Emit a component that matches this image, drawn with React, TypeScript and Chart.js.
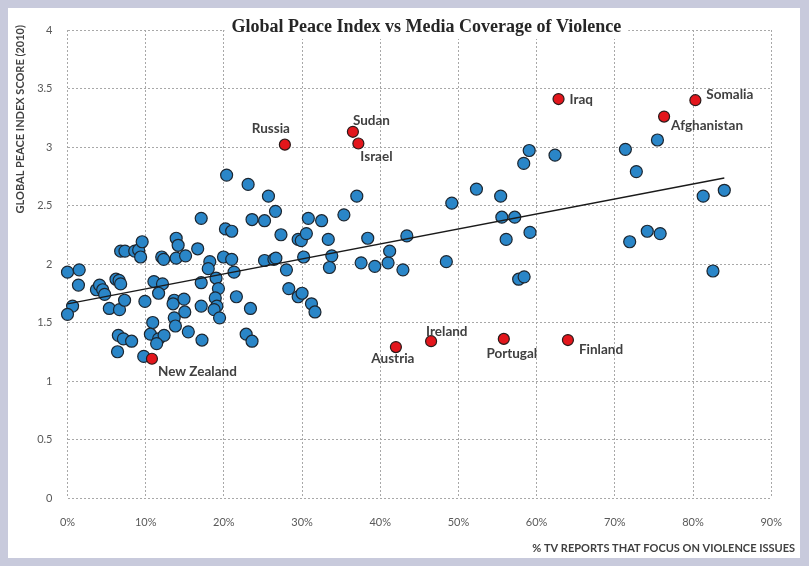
import React, { useEffect, useRef } from "react";
import { Chart, registerables } from "chart.js";

Chart.register(...registerables);

// ---- Data ----
const blueX = [
  0.0, 1.5, 1.4, 0.65, 0.0, 3.7, 4.1, 4.5, 4.75, 5.35, 6.65, 7.3, 6.2, 6.6, 6.8, 6.8, 7.35, 8.6, 9.1, 9.55,
  9.35, 9.9, 11.05, 12.15, 11.65, 12.05, 12.3, 13.9, 14.15, 13.9, 15.1, 16.65, 13.65, 13.5, 14.9, 15.0, 13.65, 13.8, 10.9, 10.6,
  11.65, 12.35, 11.4, 6.5, 7.15, 8.2, 6.4, 9.75, 15.45, 20.35, 23.1, 25.7, 26.6, 17.1, 23.6, 25.2, 30.8, 32.5, 20.2, 21.0,
  27.3, 29.5, 29.9, 30.55, 18.2, 18.0, 19.95, 21.0, 25.2, 26.4, 26.65, 30.2, 28.0, 21.3, 19.0, 17.1, 19.3, 18.9, 19.1, 18.75,
  19.45, 17.1, 21.6, 23.4, 28.3, 29.5, 30.0, 31.2, 31.65, 17.2, 22.85, 23.6, 37.0, 49.15, 35.35, 33.35, 38.4, 43.4, 33.8, 33.5,
  37.55, 39.3, 41.0, 41.2, 42.9, 48.45, 59.05, 62.35, 58.35, 52.3, 55.4, 55.55, 57.2, 59.15, 56.1, 57.7, 58.4, 71.35, 75.45, 72.75,
  81.3, 84.0, 71.9, 74.15, 75.8, 82.55,
];
const blueY = [
  1.93, 1.95, 1.82, 1.64, 1.57, 1.78, 1.82, 1.78, 1.74, 1.62, 1.61, 1.69, 1.87, 1.86, 1.83, 2.11, 2.11, 2.11, 2.12, 2.19,
  2.06, 1.68, 1.85, 1.83, 1.75, 2.06, 2.04, 2.22, 2.16, 2.05, 2.07, 2.13, 1.69, 1.66, 1.70, 1.59, 1.54, 1.47, 1.50, 1.40,
  1.36, 1.39, 1.32, 1.39, 1.36, 1.34, 1.25, 1.21, 1.42, 2.76, 2.68, 2.58, 2.45, 2.39, 2.38, 2.37, 2.39, 2.37, 2.30, 2.28,
  2.25, 2.21, 2.20, 2.26, 2.02, 1.96, 2.06, 2.04, 2.03, 2.04, 2.05, 2.06, 1.95, 1.93, 1.88, 1.84, 1.79, 1.71, 1.64, 1.61,
  1.54, 1.64, 1.72, 1.62, 1.79, 1.72, 1.75, 1.66, 1.59, 1.35, 1.40, 1.34, 2.58, 2.52, 2.42, 2.21, 2.22, 2.24, 2.07, 1.97,
  2.01, 1.98, 2.01, 2.11, 1.95, 2.02, 2.97, 2.93, 2.86, 2.64, 2.58, 2.40, 2.40, 2.27, 2.21, 1.87, 1.89, 2.98, 3.06, 2.79,
  2.58, 2.63, 2.19, 2.28, 2.26, 1.94,
];

const redNames = ["New Zealand", "Russia", "Sudan", "Israel", "Iraq", "Afghanistan", "Somalia", "Austria", "Ireland", "Portugal", "Finland"];
const redX = [10.8, 27.8, 36.5, 37.2, 62.8, 76.3, 80.3, 42.0, 46.5, 55.8, 64.0];
const redY = [1.19, 3.02, 3.13, 3.03, 3.41, 3.26, 3.40, 1.29, 1.34, 1.36, 1.35];

const trendX = [0, 84];
const trendY = [1.66, 2.735];

const xTicks = [0, 10, 20, 30, 40, 50, 60, 70, 80, 90];
const yTicks = [0, 0.5, 1, 1.5, 2, 2.5, 3, 3.5, 4];

const chartTitle = "Global Peace Index vs Media Coverage of Violence";
const xTitle = "% TV REPORTS THAT FOCUS ON VIOLENCE ISSUES";
const yTitle = "GLOBAL PEACE INDEX SCORE (2010)";

// ---- Label placement (style/position config) ----
const labelPlacement: Record<string, { dx: number; dy: number; align: CanvasTextAlign }> = {
  "New Zealand": { dx: 6, dy: 13, align: "left" },
  Russia: { dx: -14, dy: -16, align: "center" },
  Sudan: { dx: 0, dy: -11, align: "left" },
  Israel: { dx: 2, dy: 13, align: "left" },
  Iraq: { dx: 11, dy: 1, align: "left" },
  Afghanistan: { dx: 7, dy: 9, align: "left" },
  Somalia: { dx: 11, dy: -6, align: "left" },
  Austria: { dx: -3, dy: 12, align: "center" },
  Ireland: { dx: -5, dy: -10, align: "left" },
  Portugal: { dx: 8, dy: 15, align: "center" },
  Finland: { dx: 11, dy: 10, align: "left" },
};

const W = 792;
const H = 550;

const decorPlugin = {
  id: "decor",
  afterDatasetsDraw(chart: any) {
    const ctx = chart.ctx as CanvasRenderingContext2D;
    const xs = chart.scales.x;
    const ys = chart.scales.y;
    const area = chart.chartArea;
    ctx.save();
    // point labels
    ctx.font = "bold 13.5px Lato";
    ctx.fillStyle = "#404040";
    ctx.textBaseline = "middle";
    redNames.forEach((n, i) => {
      const p = labelPlacement[n];
      const px = xs.getPixelForValue(redX[i]);
      const py = ys.getPixelForValue(redY[i]);
      ctx.textAlign = p.align;
      ctx.fillText(n, px + p.dx, py + p.dy);
    });
    // chart title with white box
    ctx.font = "bold 18px 'Liberation Serif'";
    const cx = (area.left + area.right) / 2 + 7;
    const cy = area.top - 3;
    const tw = ctx.measureText(chartTitle).width;
    ctx.fillStyle = "#ffffff";
    ctx.fillRect(cx - tw / 2 - 7, cy - 12, tw + 14, 24);
    ctx.fillStyle = "#262626";
    ctx.textAlign = "center";
    ctx.fillText(chartTitle, cx, cy);
    // x axis title
    ctx.font = "bold 11px Lato";
    ctx.fillStyle = "#404040";
    ctx.textAlign = "right";
    ctx.fillText(xTitle, 787, 540);
    // y axis title
    ctx.translate(12, 17);
    ctx.rotate(-Math.PI / 2);
    ctx.textAlign = "right";
    ctx.fillText(yTitle, 0, 0);
    ctx.restore();
  },
};

export default function App() {
  const ref = useRef<HTMLCanvasElement | null>(null);
  useEffect(() => {
    document.body.style.background = "#c8cadc";
    const canvas = ref.current!;
    const chart = new Chart(canvas, {
      type: "scatter",
      data: {
        datasets: [
          {
            type: "line",
            data: trendX.map((x, i) => ({ x, y: trendY[i] })),
            borderColor: "#1a1a1a",
            borderWidth: 1.3,
            pointRadius: 0,
            fill: false,
            order: 0,
            clip: false,
          } as any,
          {
            data: redX.map((x, i) => ({ x, y: redY[i] })),
            backgroundColor: "#e3161c",
            borderColor: "#2a1a1a",
            borderWidth: 1.2,
            pointRadius: 5.5,
            order: 1,
            clip: false,
          },
          {
            data: blueX.map((x, i) => ({ x, y: blueY[i] })),
            backgroundColor: "#2a86c8",
            borderColor: "#1c2630",
            borderWidth: 1.2,
            pointRadius: 6,
            order: 2,
            clip: false,
          },
        ],
      },
      options: {
        responsive: false,
        animation: false,
        devicePixelRatio: 1,
        layout: { padding: { top: 22, right: 16, left: 0, bottom: 0 } },
        plugins: { legend: { display: false }, tooltip: { enabled: false }, title: { display: false } },
        scales: {
          x: {
            type: "linear",
            min: 0,
            max: 90,
            afterFit: (s: any) => {
              s.height = 60;
            },
            afterBuildTicks: (s: any) => {
              s.ticks = xTicks.map((v) => ({ value: v }));
            },
            ticks: {
              padding: 18,
              color: "#595959",
              font: { family: "Lato", size: 11 },
              callback: (v: any) => v + "%",
            },
            grid: { color: "#a8a8a8", lineWidth: 1, drawTicks: false },
            border: { display: false, dash: [2, 2] },
          },
          y: {
            type: "linear",
            min: 0,
            max: 4,
            afterFit: (s: any) => {
              s.width = 59.5;
            },
            afterBuildTicks: (s: any) => {
              s.ticks = yTicks.map((v) => ({ value: v }));
            },
            ticks: {
              padding: 15,
              color: "#595959",
              font: { family: "Lato", size: 11 },
              callback: (v: any) => String(v),
            },
            grid: { color: "#a8a8a8", lineWidth: 1, drawTicks: false },
            border: { display: false, dash: [2, 2] },
          },
        },
      },
      plugins: [decorPlugin],
    } as any);
    return () => chart.destroy();
  }, []);
  return (
    <canvas
      ref={ref}
      width={W}
      height={H}
      style={{ display: "block", width: W, height: H, background: "#ffffff" }}
    />
  );
}
